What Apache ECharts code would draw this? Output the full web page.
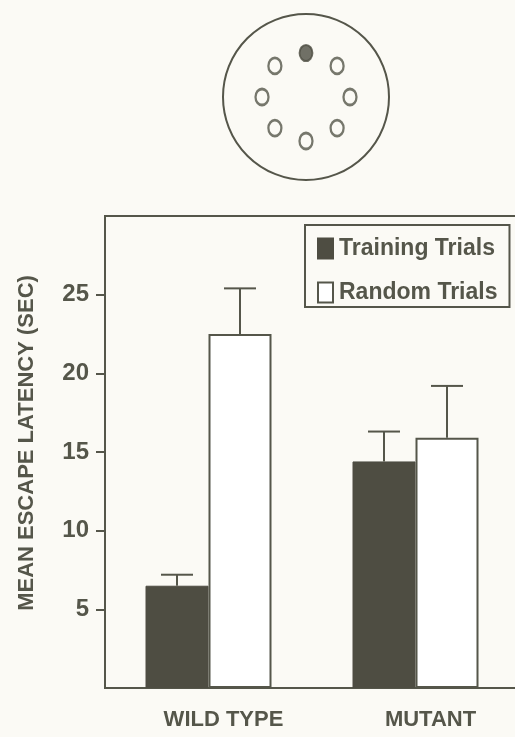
<!DOCTYPE html>
<html>
<head>
<meta charset="utf-8">
<script src="https://cdn.jsdelivr.net/npm/echarts@6/dist/echarts.min.js"></script>
<style>
  html, body { margin: 0; padding: 0; background: #fbfaf5; }
  #chart { width: 515px; height: 737px; }
</style>
</head>
<body>
<div id="chart"></div>
<script>
// Water-maze escape latency: wild type vs mutant, training vs random platform trials
const groups = ['WILD TYPE', 'MUTANT'];
const trainingMeans = [6.5, 14.4];
const trainingErr = [0.7, 1.9];
const randomMeans = [22.5, 15.9];
const randomErr = [2.9, 3.3];
const yTicks = [5, 10, 15, 20, 25];

// Pool schematic: 8 holes evenly spaced around the pool, platform at hole 0
const holeAngles = [0, 45, 90, 135, 180, 225, 270, 315];
const holeRadius = 0.53;
const platformHole = 0;

const INK = '#55564a';
const FILL = '#4e4d42';
const BG = '#fbfaf5';
const FONT = '"Liberation Sans", Arial, Helvetica, sans-serif';
const BAR_W = 63;

const chart = echarts.init(document.getElementById('chart'), null, { renderer: 'canvas' });

function errorBars(name, means, errs, side) {
  return {
    name: name + ' SEM',
    type: 'custom',
    xAxisIndex: 0,
    yAxisIndex: 0,
    z: 5,
    silent: true,
    data: means.map((m, i) => [i, m, m + errs[i]]),
    renderItem(params, api) {
      const base = api.coord([api.value(0), api.value(1)]);
      const top = api.coord([api.value(0), api.value(2)]);
      const x = base[0] + side * BAR_W / 2;
      const half = 16;
      const style = { stroke: INK, lineWidth: 2 };
      return {
        type: 'group',
        children: [
          { type: 'line', shape: { x1: x, y1: base[1], x2: x, y2: top[1] }, style },
          { type: 'line', shape: { x1: x - half, y1: top[1], x2: x + half, y2: top[1] }, style }
        ]
      };
    }
  };
}

const option = {
  backgroundColor: BG,
  animation: false,
  textStyle: { fontFamily: FONT },
  polar: { center: [306, 97], radius: 83 },
  angleAxis: {
    type: 'value', min: 0, max: 360, startAngle: 90,
    axisLine: { show: true, lineStyle: { color: INK, width: 2 } },
    axisTick: { show: false }, axisLabel: { show: false }, splitLine: { show: false }
  },
  radiusAxis: {
    type: 'value', min: 0, max: 1,
    axisLine: { show: false }, axisTick: { show: false }, axisLabel: { show: false }, splitLine: { show: false }
  },
  grid: {
    left: 105, top: 216, width: 414, bottom: 49,
    outerBoundsMode: 'none',
    show: true, borderColor: INK, borderWidth: 2, backgroundColor: 'transparent'
  },
  legend: {
    left: 305, top: 225,
    orient: 'vertical',
    data: ['Training Trials', 'Random Trials'],
    icon: 'rect',
    itemWidth: 15, itemHeight: 20, itemGap: 21,
    padding: [12, 12, 3, 12],
    borderColor: INK, borderWidth: 2,
    textStyle: { fontFamily: FONT, fontSize: 23, fontWeight: 'bold', color: INK, padding: [0, 0, 0, 1] }
  },
  xAxis: {
    type: 'category',
    data: groups,
    axisLine: { lineStyle: { color: INK, width: 2 } },
    axisTick: { show: false },
    axisLabel: {
      margin: 21, fontSize: 22, fontWeight: 'bold', color: INK, fontFamily: FONT,
      padding: [0, 0, 0, 30]
    }
  },
  yAxis: {
    type: 'value', min: 0, max: 30, interval: 5,
    name: 'MEAN ESCAPE LATENCY (SEC)',
    nameLocation: 'middle', nameGap: 67, nameRotate: 90,
    nameTextStyle: { fontFamily: FONT, fontSize: 22, fontWeight: 'bold', color: INK, padding: [0, 0, 0, 18] },
    axisLine: { show: true, lineStyle: { color: INK, width: 2 } },
    axisTick: { show: true, length: 9, customValues: yTicks, lineStyle: { color: INK, width: 2 } },
    axisLabel: { customValues: yTicks, margin: 16, fontSize: 24, fontWeight: 'bold', color: INK, fontFamily: FONT },
    splitLine: { show: false }
  },
  series: [
    {
      name: 'pool holes',
      type: 'scatter',
      coordinateSystem: 'polar',
      silent: true,
      symbol: 'circle',
      symbolSize: [13, 16],
      data: holeAngles.map((a, i) => ({
        value: [holeRadius, a],
        itemStyle: i === platformHole
          ? { color: FILL, borderColor: FILL, borderWidth: 2 }
          : { color: BG, borderColor: INK, borderWidth: 2.5 }
      }))
    },
    {
      name: 'Training Trials',
      type: 'bar',
      barWidth: BAR_W, barGap: '0%',
      data: trainingMeans,
      itemStyle: { color: FILL, borderColor: FILL, borderWidth: 1 }
    },
    {
      name: 'Random Trials',
      type: 'bar',
      barWidth: BAR_W, barGap: '0%',
      data: randomMeans,
      itemStyle: { color: '#ffffff', borderColor: INK, borderWidth: 2 }
    },
    errorBars('Training Trials', trainingMeans, trainingErr, -1),
    errorBars('Random Trials', randomMeans, randomErr, 1)
  ]
};

chart.setOption(option);
</script>
</body>
</html>
